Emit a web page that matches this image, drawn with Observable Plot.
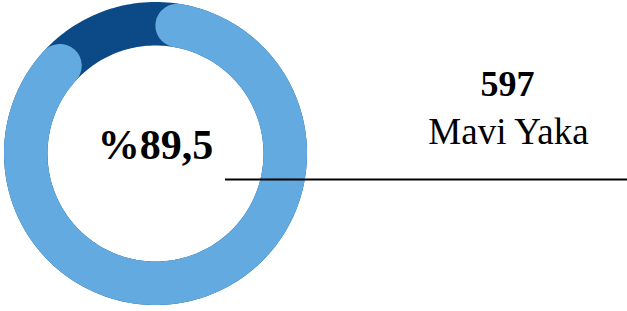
<!DOCTYPE html>
<html>
<head>
<meta charset="utf-8">
<script src="https://cdn.jsdelivr.net/npm/d3@7"></script>
<script src="https://cdn.jsdelivr.net/npm/@observablehq/plot@0.6"></script>
<style>
  html, body { margin: 0; padding: 0; background: #ffffff; }
  #chart { width: 627px; height: 311px; overflow: hidden; }
</style>
</head>
<body>
<div id="chart"></div>
<script>
// ---- Data ----
const categories = ["Mavi Yaka", "Diğer"];
const shares = [89.5, 10.5];           // percent
const counts = [597];                   // head count of the highlighted category
const labels = ["Mavi Yaka"];

// ---- Layout (pixel-space scales) ----
const W = 627, H = 311;
const cx = 155, cy = 153;
const outerR = 151.5, innerR = 108;
const midR = (outerR + innerR) / 2;
const thick = outerR - innerR;
const light = "#62aadf", dark = "#0b4a86";
const serif = "'Liberation Serif', 'Times New Roman', Times, serif";

function arcPoints(a0, a1, n = 240) {
  return d3.range(n + 1).map(i => {
    const a = a0 + (a1 - a0) * i / n;
    return {x: cx + midR * Math.sin(a), y: cy - midR * Math.cos(a)};
  });
}

const capAngle = (thick / 2) / midR;
const shareAngle = shares[0] / 100 * 2 * Math.PI;
const ring = arcPoints(0, 2 * Math.PI);
const mainArc = arcPoints(capAngle, shareAngle - capAngle);

const centreText = "%" + d3.format(".1f")(shares[0]).replace(".", ",");

const chart = Plot.plot({
  width: W, height: H,
  margin: 0,
  x: {domain: [0, W], range: [0, W], axis: null},
  y: {domain: [0, H], range: [0, H], axis: null},
  style: {background: "#ffffff"},
  marks: [
    Plot.line(ring, {x: "x", y: "y", stroke: dark, strokeWidth: thick}),
    Plot.line(mainArc, {x: "x", y: "y", stroke: light, strokeWidth: thick, strokeLinecap: "round"}),
    Plot.ruleY([179], {x1: 225, x2: W, stroke: "#000", strokeWidth: 2}),
    Plot.text([centreText], {x: () => cx, y: () => 158, text: d => d, lineAnchor: "bottom", textAnchor: "middle",
      fontFamily: serif, fontWeight: "bold", fontSize: 42, fill: "#000"}),
    Plot.text(counts, {x: () => 507, y: () => 95, text: d => String(d), lineAnchor: "bottom", textAnchor: "middle",
      fontFamily: serif, fontWeight: "bold", fontSize: 36, fill: "#000"}),
    Plot.text(labels, {x: () => 508, y: () => 143, text: d => d, lineAnchor: "bottom", textAnchor: "middle",
      fontFamily: serif, fontSize: 37, fill: "#000"})
  ]
});
document.getElementById("chart").appendChild(chart);
</script>
</body>
</html>
